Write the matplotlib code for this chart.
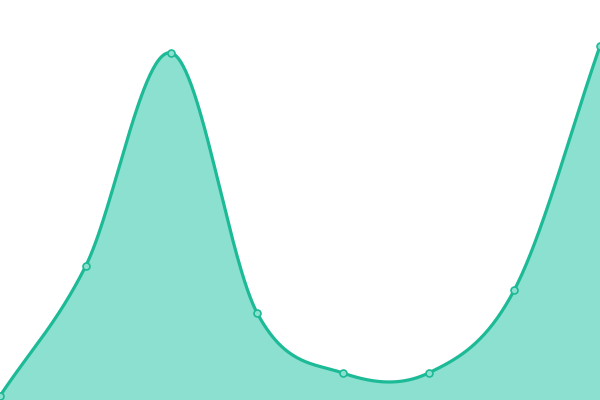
import numpy as np
import matplotlib
matplotlib.use("Agg")
import matplotlib.pyplot as plt

x_vals = [0, 1, 2, 3, 4, 5, 6, 7]
y_vals = [4, 134, 347, 87, 27, 27, 110, 354]

LINE = "#1cba96"
FILL = "#8be0d0"

def catmull(xs, ys, n=60):
    xs = np.asarray(xs, float); ys = np.asarray(ys, float)
    m = np.zeros_like(ys)
    m[1:-1] = (ys[2:] - ys[:-2]) / 2
    m[0] = ys[1] - ys[0]
    m[-1] = ys[-1] - ys[-2]
    px, py = [], []
    for i in range(len(xs) - 1):
        t = np.linspace(0, 1, n, endpoint=(i == len(xs) - 2))
        h00 = 2*t**3 - 3*t**2 + 1
        h10 = t**3 - 2*t**2 + t
        h01 = -2*t**3 + 3*t**2
        h11 = t**3 - t**2
        px.append(xs[i] + t*(xs[i+1]-xs[i]))
        py.append(h00*ys[i] + h10*m[i] + h01*ys[i+1] + h11*m[i+1])
    return np.concatenate(px), np.concatenate(py)

fig = plt.figure(figsize=(6, 4), dpi=100)
ax = fig.add_axes([0, 0, 1, 1])
cx, cy = catmull(x_vals, y_vals)
ax.fill_between(cx, cy, 0, color=FILL, linewidth=0)
ax.plot(cx, cy, color=LINE, linewidth=2.3, solid_capstyle="round")
ax.plot(x_vals, y_vals, "o", markersize=5, markerfacecolor=FILL,
        markeredgecolor=LINE, markeredgewidth=1.2)
ax.set_xlim(0, 7)
ax.set_ylim(0, 400)
ax.axis("off")
fig.savefig("out.png", dpi=100)
